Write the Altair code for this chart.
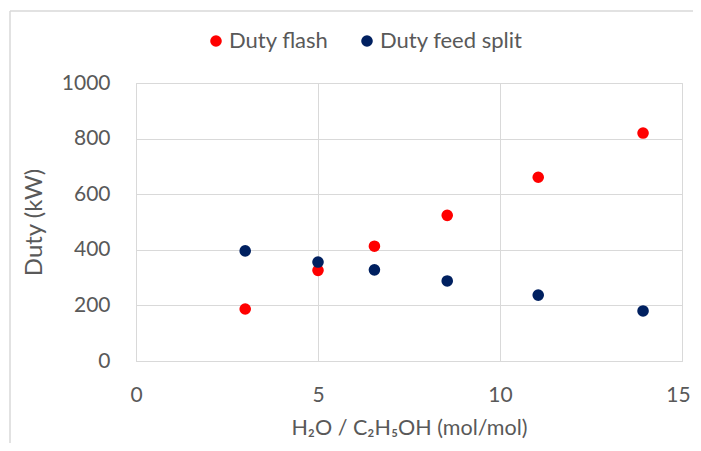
import altair as alt
import pandas as pd

ratio = [3.0, 5.0, 6.55, 8.55, 11.05, 13.93]
duty_flash = [187, 326, 413, 524, 661, 820]
duty_feed_split = [396, 356, 328, 288, 237, 180]
series_names = ["Duty flash", "Duty feed split"]
colors = ["#FF0000", "#002060"]

rows = []
for x, a, b in zip(ratio, duty_flash, duty_feed_split):
    rows.append({"x": x, "y": a, "series": series_names[0]})
    rows.append({"x": x, "y": b, "series": series_names[1]})
df = pd.DataFrame(rows)

W, H = 546, 278
FONT = "Lato"
TXT = "#595959"
GRID = "#d9d9d9"

points = alt.Chart(df).mark_circle(size=135, opacity=1).encode(
    x=alt.X("x:Q", scale=alt.Scale(domain=[0, 15], nice=False),
            axis=alt.Axis(values=[0, 5, 10, 15], title="H₂O / C₂H₅OH (mol/mol)",
                          format="d", labelFlush=False, titleFontSize=21.5,
                          labelOffset={"condition": {"test": "datum.value == 15", "value": -4},
                                       "value": 0},
                          titlePadding=12, labelPadding=23)),
    y=alt.Y("y:Q", scale=alt.Scale(domain=[0, 1000], nice=False),
            axis=alt.Axis(values=[0, 200, 400, 600, 800, 1000], title="Duty (kW)",
                          format="d", labelFlush=False, titleFontSize=24,
                          titlePadding=15, labelPadding=26)),
    color=alt.Color("series:N", sort=series_names,
                    scale=alt.Scale(domain=series_names, range=colors),
                    legend=alt.Legend(title=None, orient="none", direction="horizontal",
                                      legendX=69, legendY=-53, symbolType="circle",
                                      symbolSize=135, labelOffset=2, columnPadding=27)),
)

frame = pd.DataFrame({"a": [0]})
left_edge = alt.Chart(frame).mark_rule(color=GRID, strokeWidth=1.5).encode(
    x=alt.value(-126), y=alt.value(-72), y2=alt.value(H + 200)
)
top_edge = alt.Chart(frame).mark_rule(color=GRID, strokeWidth=1.5).encode(
    y=alt.value(-72), x=alt.value(-126), x2=alt.value(W + 200)
)

chart = alt.layer(left_edge, top_edge, points).properties(
    width=W, height=H,
    background="white",
    autosize=alt.AutoSizeParams(type="none"),
    padding={"left": 128, "top": 75, "right": 11, "bottom": 82},
).configure_view(stroke=GRID, strokeWidth=1).configure_axis(
    labelFont=FONT, titleFont=FONT, labelFontSize=21, titleFontSize=22,
    labelColor=TXT, titleColor=TXT, titleFontWeight="normal",
    gridColor=GRID, gridWidth=1, domainColor=GRID, tickSize=0,
).configure_legend(
    labelFont=FONT, labelFontSize=22, labelColor=TXT,
)

chart.save("out.html", embed_options={"renderer": "svg", "actions": False})
